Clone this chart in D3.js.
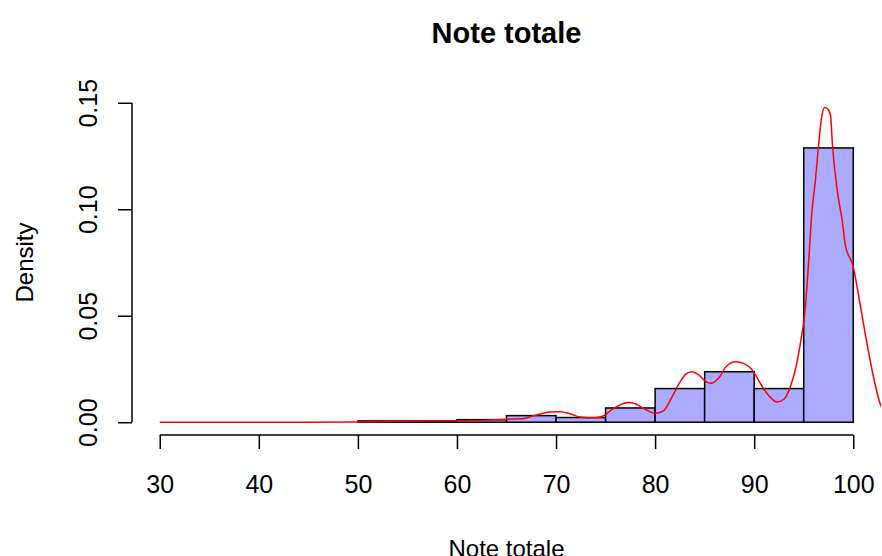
<!DOCTYPE html>
<html>
<head>
<meta charset="utf-8">
<script src="https://cdn.jsdelivr.net/npm/d3@7"></script>
<style>
  body { margin: 0; background: #fff; }
  text { font-family: "Liberation Sans", Arial, sans-serif; fill: #000; }
</style>
</head>
<body>
<div id="chart-area"></div>
<script>
// histogram bins (left edges, width 5) and densities
var binStart = [50, 55, 60, 65, 70, 75, 80, 85, 90, 95];
var binDensity = [0.0006, 0.0006, 0.0012, 0.0031, 0.0022, 0.0067, 0.0158, 0.0237, 0.0158, 0.1288];

// kernel density curve
var curveX = [30, 40, 50, 51.2, 54.2, 58.3, 61.8, 64.3, 66.4, 68.1, 69.4, 70.4, 71.4, 72.4, 73.9, 74.7,
  75.7, 76.5, 77.2, 78.0, 79.0, 80.0, 80.8, 81.7, 82.5, 83.1, 83.7, 84.3, 85.2, 85.6, 86.4, 87.2,
  88.1, 89.0, 89.8, 90.8, 91.6, 92.3, 93.0, 93.6, 94.3, 94.6, 95.1, 95.5, 95.8, 96.2, 96.5, 96.8,
  97.1, 97.4, 97.7, 97.9, 98.4, 98.9, 99.2, 100.0, 100.5, 101.2, 101.9, 102.6, 103.2];
var curveY = [0, 0, 0.0001, 0.0002, 0.0005, 0.0006, 0.0008, 0.0013, 0.0016, 0.0035, 0.0048, 0.0049, 0.004, 0.0025, 0.0021, 0.0028,
  0.0061, 0.0082, 0.0093, 0.0087, 0.0061, 0.0042, 0.0052, 0.0118, 0.0188, 0.0226, 0.0237, 0.0226, 0.0188, 0.0183, 0.0207, 0.0263,
  0.0284, 0.0275, 0.0245, 0.0169, 0.0118, 0.0095, 0.0108, 0.016, 0.0276, 0.0354, 0.0511, 0.0754, 0.0973, 0.1146, 0.1302, 0.1429,
  0.1478, 0.1472, 0.1444, 0.1302, 0.1083, 0.0942, 0.0832, 0.073, 0.0605, 0.0417, 0.0245, 0.0103, 0.003];

var xTicks = [30, 40, 50, 60, 70, 80, 90, 100];
var yTicks = [0, 0.05, 0.10, 0.15];

var width = 882, height = 556;
var plot = { left: 132, right: 881, top: 90, bottom: 435 };

var svg = d3.select("#chart-area").append("svg")
    .attr("width", width)
    .attr("height", height);

var x = d3.scaleLinear().domain([27.2, 102.8]).range([plot.left, plot.right]);
var y = d3.scaleLinear().domain([-0.006, 0.156]).range([plot.bottom, plot.top]);

svg.append("clipPath").attr("id", "plot-clip")
  .append("rect")
    .attr("x", plot.left).attr("y", plot.top)
    .attr("width", plot.right - plot.left)
    .attr("height", plot.bottom - plot.top);

var g = svg.append("g").attr("clip-path", "url(#plot-clip)");

g.selectAll(".bar")
    .data(binStart)
    .enter().append("rect")
      .attr("class", "bar")
      .attr("x", function(d) { return x(d); })
      .attr("y", function(d, i) { return y(binDensity[i]); })
      .attr("width", function(d) { return x(d + 5) - x(d); })
      .attr("height", function(d, i) { return y(0) - y(binDensity[i]); })
      .attr("fill", "#aaaaff")
      .attr("stroke", "#000")
      .attr("stroke-width", 1.5);

var line = d3.line()
    .x(function(d, i) { return x(curveX[i]); })
    .y(function(d) { return y(d); })
    .curve(d3.curveMonotoneX);

g.append("path")
    .datum(curveY)
    .attr("d", line)
    .attr("fill", "none")
    .attr("stroke", "#ff0000")
    .attr("stroke-width", 1.5);

// x axis
var xAxis = svg.append("g")
    .attr("transform", "translate(0," + plot.bottom + ")")
    .call(d3.axisBottom(x).tickValues(xTicks).tickSize(14).tickSizeOuter(0).tickPadding(26));
xAxis.select(".domain").attr("d", "M" + x(30) + ",0H" + x(100));
xAxis.selectAll("line, path").attr("stroke", "#000").attr("stroke-width", 1.5);
xAxis.selectAll("text").attr("font-size", 25).attr("font-family", "Liberation Sans, Arial, sans-serif");

// y axis
var yAxis = svg.append("g")
    .attr("transform", "translate(" + plot.left + ",0)")
    .call(d3.axisLeft(y).tickValues(yTicks).tickSize(14).tickSizeOuter(0).tickFormat(d3.format(".2f")));
yAxis.select(".domain").attr("d", "M0," + y(0) + "V" + y(0.15));
yAxis.selectAll("line, path").attr("stroke", "#000").attr("stroke-width", 1.5);
yAxis.selectAll("text")
    .attr("font-size", 25)
    .attr("font-family", "Liberation Sans, Arial, sans-serif")
    .attr("x", null).attr("dy", null)
    .attr("text-anchor", "middle")
    .attr("transform", "translate(-35,0) rotate(-90)");

svg.append("text")
    .attr("x", (plot.left + plot.right) / 2)
    .attr("y", 43)
    .attr("text-anchor", "middle")
    .attr("font-size", 29)
    .attr("font-weight", "bold")
    .text("Note totale");

svg.append("text")
    .attr("x", (plot.left + plot.right) / 2)
    .attr("y", 557)
    .attr("text-anchor", "middle")
    .attr("font-size", 24)
    .text("Note totale");

svg.append("text")
    .attr("transform", "translate(33," + (plot.top + plot.bottom) / 2 + ") rotate(-90)")
    .attr("text-anchor", "middle")
    .attr("font-size", 24)
    .text("Density");
</script>
</body>
</html>
